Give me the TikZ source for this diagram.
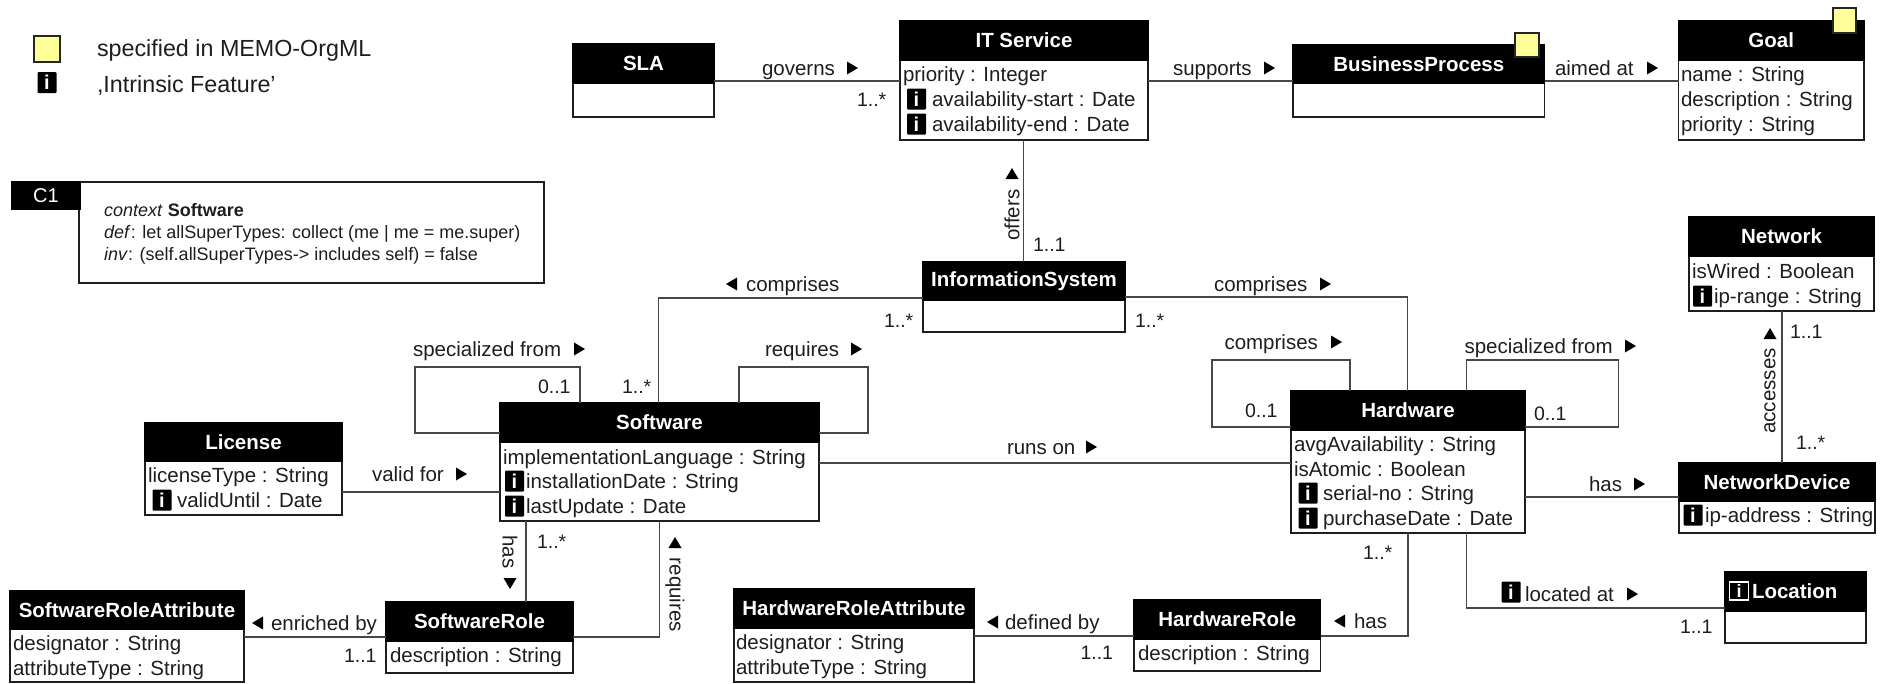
\documentclass[tikz,border=0pt]{standalone}
\usepackage{fontspec}
\setmainfont{Liberation Sans}
\definecolor{memoyellow}{HTML}{FFFF99}
\definecolor{inkc}{HTML}{1E1E1E}
\tikzset{
  bodybox/.style={draw=inkc,line width=1.7pt,fill=white,anchor=north west,inner sep=0pt,outer sep=0pt},
  headbox/.style={draw=black,line width=1.2pt,fill=black,text=white,anchor=north west,inner sep=0pt,outer sep=0pt,font=\fontsize{20.5}{24}\selectfont\bfseries},
  txt/.style={anchor=west,inner sep=0pt,outer sep=0pt,text=inkc,font=\fontsize{20.5}{24}\selectfont,text height=19pt,text depth=4pt},
  multi/.style={anchor=west,inner sep=0pt,outer sep=0pt,text=inkc,font=\fontsize{19.5}{24}\selectfont,text height=15pt,text depth=4pt},
  vtxt/.style={anchor=center,inner sep=0pt,outer sep=0pt,text=inkc,font=\fontsize{20.5}{24}\selectfont},
  conn/.style={draw=black!72,line width=1.5pt,line join=miter},
  infoicon/.style={fill=black,rounded corners=1pt,inner sep=0pt,outer sep=0pt,minimum width=19pt,minimum height=21pt,text=white,font=\fontsize{20}{20}\selectfont\bfseries,anchor=center},
  yellowsq/.style={draw=black!85,line width=1.2pt,fill=memoyellow,anchor=north west,inner sep=0pt,outer sep=0pt},
  tri/.style={fill=black,draw=none},
}
\newcommand{\umlclass}[7]{% name x1 y1 x2 yh y2 title
  \pgfmathsetmacro{\bw}{#4-#2}\pgfmathsetmacro{\bh}{#6-#3}\pgfmathsetmacro{\hh}{#5-#3}
  \node[bodybox,minimum width=\bw pt,minimum height=\bh pt] (#1) at (#2,#3) {};
  \node[headbox,minimum width=\bw pt,minimum height=\hh pt] (#1-h) at (#2,#3) {#7};
}
\newcommand{\attr}[4]{\node[txt] (#1) at (#2,#3) {#4};}
\newcommand{\multip}[4]{\node[multi] (#1) at (#2,#3) {#4};}
\newcommand{\icon}[3]{\node[infoicon] (#1) at (#2,#3) {i};}
\newcommand{\triR}[2]{\fill[tri] (#1,#2-6.5) -- (#1+11,#2) -- (#1,#2+6.5) -- cycle;}
\newcommand{\triL}[2]{\fill[tri] (#1+11,#2-6.5) -- (#1,#2) -- (#1+11,#2+6.5) -- cycle;}
\newcommand{\triU}[2]{\fill[tri] (#1-6.5,#2+11) -- (#1,#2) -- (#1+6.5,#2+11) -- cycle;}
\newcommand{\triD}[2]{\fill[tri] (#1-6.5,#2) -- (#1,#2+11) -- (#1+6.5,#2) -- cycle;}
\begin{document}
\begin{tikzpicture}[x=1pt,y=-1pt]
\useasboundingbox (0,0) rectangle (1881,683);
\fill[white] (0,0) rectangle (1881,683);

% legend
\node[yellowsq,minimum width=26pt,minimum height=26pt] (legsq) at (34,36) {};
\icon{legi}{47}{82.5}
\node[txt,font=\fontsize{23.3}{26}\selectfont] (legt1) at (97,49) {specified in MEMO-OrgML};
\node[txt,font=\fontsize{23.3}{26}\selectfont] (legt2) at (97,85) {,Intrinsic Feature'};

% constraint
\node[bodybox,minimum width=465pt,minimum height=101pt] (c1box) at (79,182) {};
\node[headbox,minimum width=68pt,minimum height=27pt,font=\fontsize{20}{24}\selectfont] (c1tag) at (12,182) {C1};
\node[anchor=west,inner sep=0pt,align=left,text=inkc,font=\fontsize{18}{22}\selectfont] (c1txt) at (104,234)
 {\textit{context} \textbf{Software}\\\textit{def}: let allSuperTypes: collect (me | me = me.super)\\\textit{inv}: (self.allSuperTypes-> includes self) = false};

% classes
\umlclass{sla}{573}{44}{714}{83}{117}{SLA}
\umlclass{its}{900}{20.5}{1148}{60}{140}{IT Service}
\umlclass{bp}{1293}{44.5}{1544.5}{83}{117}{BusinessProcess}
\umlclass{goal}{1678.5}{20.5}{1864}{60}{140}{Goal}
\umlclass{is}{923}{262}{1125}{300}{332}{InformationSystem}
\umlclass{net}{1689}{217}{1874}{256}{311}{Network}
\umlclass{sw}{500}{403}{819}{442}{521}{Software}
\umlclass{hw}{1291}{391}{1525}{430}{533}{Hardware}
\umlclass{nd}{1679}{463}{1875}{501}{533}{NetworkDevice}
\umlclass{lic}{145}{423}{342}{461}{515}{License}
\umlclass{sr}{386}{602}{573}{641}{673}{SoftwareRole}
\umlclass{sra}{10}{591}{244}{629}{682}{SoftwareRoleAttribute}
\umlclass{hra}{734}{589}{974}{628}{682}{HardwareRoleAttribute}
\umlclass{hr}{1134}{600}{1320.5}{639}{671}{HardwareRole}
\umlclass{loc}{1725}{572}{1866}{611}{643}{}

% yellow marks
\node[yellowsq,minimum width=24pt,minimum height=24pt] (bpsq) at (1515,33) {};
\node[yellowsq,minimum width=23pt,minimum height=25pt] (goalsq) at (1833,8) {};

% connectors
\draw[conn] (sla.east |- 0,81) -- (its.west |- 0,81);
\draw[conn] (its.east |- 0,81) -- (bp.west |- 0,81);
\draw[conn] (bp.east |- 0,81) -- (goal.west |- 0,81);
\draw[conn] (1023.5,0 |- its.south) -- (1023.5,0 |- is.north);
\draw[conn] (is.west |- 0,298) -- (658.7,298) -- (658.7,0 |- sw.north);
\draw[conn] (is.east |- 0,297) -- (1407.5,297) -- (1407.5,0 |- hw.north);
\draw[conn] (sw.west |- 0,433) -- (415,433) -- (415,367) -- (580,367) -- (580,0 |- sw.north);
\draw[conn] (739,0 |- sw.north) -- (739,367) -- (868,367) -- (868,433) -- (sw.east |- 0,433);
\draw[conn] (hw.west |- 0,427) -- (1212,427) -- (1212,360) -- (1350,360) -- (1350,0 |- hw.north);
\draw[conn] (1466.5,0 |- hw.north) -- (1466.5,360) -- (1618.5,360) -- (1618.5,427) -- (hw.east |- 0,427);
\draw[conn] (sw.east |- 0,463) -- (hw.west |- 0,463);
\draw[conn] (lic.east |- 0,492) -- (sw.west |- 0,492);
\draw[conn] (526,0 |- sw.south) -- (526,0 |- sr.north);
\draw[conn] (659.5,0 |- sw.south) -- (659.5,637) -- (sr.east |- 0,637);
\draw[conn] (sra.east |- 0,637) -- (sr.west |- 0,637);
\draw[conn] (hw.east |- 0,497) -- (nd.west |- 0,497);
\draw[conn] (1782,0 |- net.south) -- (1782,0 |- nd.north);
\draw[conn] (1408,0 |- hw.south) -- (1408,636) -- (hr.east |- 0,636);
\draw[conn] (hra.east |- 0,636) -- (hr.west |- 0,636);
\draw[conn] (1466.5,0 |- hw.south) -- (1466.5,608) -- (loc.west |- 0,608);

% attributes
\attr{it1}{903}{74}{priority : Integer}
\icon{it2i}{916.5}{99}\attr{it2}{932}{99}{availability-start : Date}
\icon{it3i}{916.5}{124}\attr{it3}{932}{124}{availability-end : Date}
\attr{g1}{1681}{74}{name : String}
\attr{g2}{1681}{99}{description : String}
\attr{g3}{1681}{124}{priority : String}
\attr{n1}{1692}{271}{isWired : Boolean}
\icon{n2i}{1702.5}{296}\attr{n2}{1714}{296}{ip-range : String}
\attr{s1}{503}{457}{implementationLanguage : String}
\icon{s2i}{514.5}{481}\attr{s2}{526}{481}{installationDate : String}
\icon{s3i}{514.5}{506}\attr{s3}{526}{506}{lastUpdate : Date}
\attr{h1}{1294}{444}{avgAvailability : String}
\attr{h2}{1294}{469}{isAtomic : Boolean}
\icon{h3i}{1308}{493}\attr{h3}{1323}{493}{serial-no : String}
\icon{h4i}{1308}{518}\attr{h4}{1323}{518}{purchaseDate : Date}
\icon{ndi}{1693}{515}\attr{nd1}{1705}{515}{ip-address : String}
\attr{l1}{148}{475}{licenseType : String}
\icon{l2i}{162}{500}\attr{l2}{177}{500}{validUntil : Date}
\attr{sr1}{390}{655}{description : String}
\attr{sra1}{13}{643}{designator : String}
\attr{sra2}{13}{668}{attributeType : String}
\attr{hra1}{736}{642}{designator : String}
\attr{hra2}{736}{667}{attributeType : String}
\attr{hr1}{1138}{653}{description : String}

% Location title
\node[draw=white,line width=1.2pt,fill=black,inner sep=0pt,outer sep=0pt,minimum width=19pt,minimum height=18pt,text=white,font=\fontsize{18}{18}\selectfont\bfseries] (loci) at (1739,591) {i};
\node[txt,text=white,font=\fontsize{20.5}{24}\selectfont\bfseries] (loct) at (1752,591) {Location};

% connector labels
\attr{lgov}{762}{68}{governs}\triR{847}{68}
\attr{lsup}{1173}{68}{supports}\triR{1264}{68}
\attr{laim}{1555}{68}{aimed at}\triR{1647}{68}
\triL{726}{284}\attr{lcompl}{746}{284}{comprises}
\attr{lcompr}{1214}{284}{comprises}\triR{1320}{284}
\attr{lcomph}{1224.5}{342}{comprises}\triR{1331}{342}
\attr{lspech}{1464.5}{346}{specialized from}\triR{1625}{346}
\attr{lspecs}{413}{349}{specialized from}\triR{574}{349}
\attr{lreqs}{765}{349}{requires}\triR{851}{349}
\attr{lrun}{1007}{447}{runs on}\triR{1086}{447}
\attr{lval}{372}{474}{valid for}\triR{456}{474}
\attr{lhasnd}{1589}{484}{has}\triR{1634}{484}
\triL{252}{623}\attr{lenr}{271}{623}{enriched by}
\triL{987}{622}\attr{ldef}{1005}{622}{defined by}
\triL{1334}{621}\attr{lhashr}{1354}{621}{has}
\node[infoicon] (lloci) at (1511,592) {i};
\attr{lloc}{1525}{594}{located at}\triR{1627}{594}

% rotated labels
\triU{1012}{168}\node[vtxt,rotate=90] (loff) at (1012,215) {offers};
\triU{1770}{328}\node[vtxt,rotate=90] (lacc) at (1770,391) {accesses};
\triD{510}{578}\node[vtxt,rotate=-90] (lhas) at (510,552) {has};
\triU{675}{537}\node[vtxt,rotate=-90] (lreq) at (675,595) {requires};

% multiplicities
\multip{m1}{857}{101}{1..*}
\multip{m2}{1033}{246}{1..1}
\multip{m3}{884}{322}{1..*}
\multip{m4}{1135}{322}{1..*}
\multip{m5}{538}{388}{0..1}
\multip{m6}{622}{388}{1..*}
\multip{m7}{1245}{412}{0..1}
\multip{m8}{1534}{415}{0..1}
\multip{m9}{1790}{333}{1..1}
\multip{m10}{1796}{444}{1..*}
\multip{m11}{537}{543}{1..*}
\multip{m12}{344}{657}{1..1}
\multip{m13}{1363}{554}{1..*}
\multip{m14}{1080.5}{654}{1..1}
\multip{m15}{1680}{628}{1..1}
\end{tikzpicture}
\end{document}
